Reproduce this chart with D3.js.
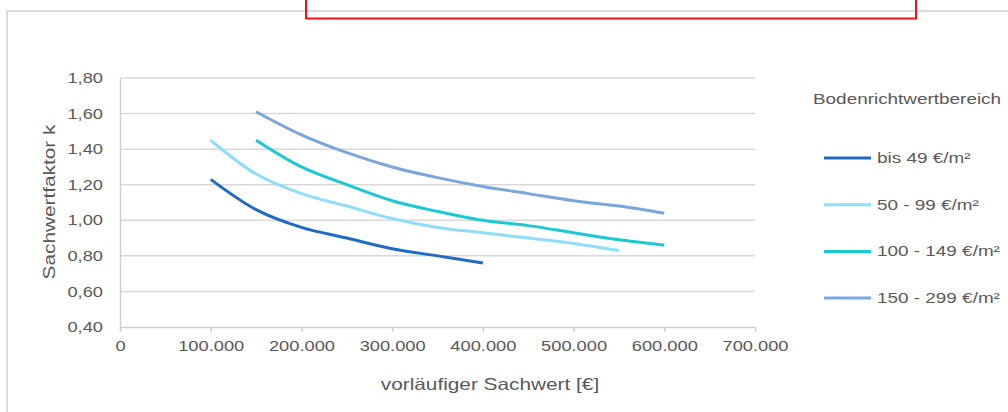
<!DOCTYPE html>
<html><head><meta charset="utf-8">
<script src="https://cdn.jsdelivr.net/npm/d3@7"></script>
<style>
html,body{margin:0;padding:0;background:#fff;}
svg text{font-family:"Liberation Sans",Arial,sans-serif;fill:#595959;}
</style></head>
<body><svg id="c" width="1008" height="412"></svg>
<script>
const xValues = [100000,150000,200000,250000,300000,350000,400000,450000,500000,550000,600000];
const seriesNames = ["bis 49 €/m²","50 - 99 €/m²","100 - 149 €/m²","150 - 299 €/m²"];
const seriesColors = ["#1f6bc4","#8fdcfc","#1cc8d2","#7aa6dc"];
const s1 = [1.23,1.06,0.96,0.90,0.84,0.80,0.76,null,null,null,null];
const s2 = [1.45,1.26,1.15,1.08,1.01,0.96,0.93,0.90,0.87,0.83,null];
const s3 = [null,1.45,1.30,1.20,1.11,1.05,1.00,0.97,0.93,0.89,0.86];
const s4 = [null,1.61,1.48,1.38,1.30,1.24,1.19,1.15,1.11,1.08,1.04];
const xTicks = [0,100000,200000,300000,400000,500000,600000,700000];
const yTicks = [0.4,0.6,0.8,1.0,1.2,1.4,1.6,1.8];
const xTitle = "vorläufiger Sachwert [€]";
const yTitle = "Sachwertfaktor k";
const legendTitle = "Bodenrichtwertbereich";

const series = [s1,s2,s3,s4];
const svg = d3.select("#c");
const x = d3.scaleLinear().domain([0,700000]).range([120,755]);
const y = d3.scaleLinear().domain([0.4,1.8]).range([327,78]);
const fmtX = v => d3.format(",")(v).replace(/,/g,".");
const fmtY = v => d3.format(".2f")(v).replace(".",",");
const STRETCH = 1.26;
function stretch(sel){
  sel.each(function(){
    const w = this.getComputedTextLength();
    d3.select(this).attr("textLength", w*STRETCH).attr("lengthAdjust","spacingAndGlyphs");
  });
}

// outer border and red frame
svg.append("path").attr("d","M7,420 L7,11 L1020,11").attr("fill","none").attr("stroke","#dcdcdc").attr("stroke-width",2);
svg.append("rect").attr("x",306).attr("y",-10).attr("width",610).attr("height",28.5)
  .attr("fill","none").attr("stroke","#f01010").attr("stroke-width",2);

// gridlines
svg.append("g").selectAll("line").data(yTicks.slice(1)).join("line")
  .attr("x1",120).attr("x2",755).attr("y1",d=>y(d)).attr("y2",d=>y(d))
  .attr("stroke","#d9d9d9").attr("stroke-width",1.5);

// y axis
const ya = svg.append("g").attr("transform","translate(120,0)")
  .call(d3.axisLeft(y).tickValues(yTicks).tickFormat(fmtY).tickSize(0).tickPadding(17));
ya.select(".domain").attr("stroke","#d0d0d0").attr("stroke-width",1.5);
ya.selectAll("text").style("font-size","14.5px").style("font-family","Liberation Sans, Arial, sans-serif").attr("fill","#595959");
stretch(ya.selectAll("text"));

// x axis
const xa = svg.append("g").attr("transform","translate(0,327)")
  .call(d3.axisBottom(x).tickValues(xTicks).tickFormat(fmtX).tickSizeInner(5).tickSizeOuter(0).tickPadding(9));
xa.select(".domain").attr("stroke","#d0d0d0").attr("stroke-width",1.5);
xa.selectAll(".tick line").attr("stroke","#d0d0d0").attr("stroke-width",1.5);
xa.selectAll("text").style("font-size","14.5px").style("font-family","Liberation Sans, Arial, sans-serif").attr("fill","#595959");
stretch(xa.selectAll("text"));

// lines
const line = d3.line().defined(d=>d.v!=null).x(d=>x(d.x)).y(d=>y(d.v)).curve(d3.curveCatmullRom.alpha(0.5));
series.forEach((s,i)=>{
  svg.append("path").datum(xValues.map((xv,j)=>({x:xv,v:s[j]})))
    .attr("d",line).attr("fill","none").attr("stroke",seriesColors[i])
    .attr("stroke-width",3).attr("stroke-linejoin","round");
});

// axis titles
const xt = svg.append("text").attr("x",490).attr("y",390).attr("text-anchor","middle")
  .style("font-size","16.5px").text(xTitle);
const yt = svg.append("text").attr("transform","translate(55,202) rotate(-90)").attr("text-anchor","middle")
  .style("font-size","16.5px").text(yTitle);
stretch(xt); stretch(yt);

// legend
const lt = svg.append("text").attr("x",813).attr("y",104).style("font-size","15px").text(legendTitle);
stretch(lt);
const lg = svg.append("g").selectAll("g").data(seriesNames).join("g")
  .attr("transform",(d,i)=>`translate(824,${158+i*46.7})`);
lg.append("line").attr("x1",0).attr("x2",47).attr("stroke",(d,i)=>seriesColors[i]).attr("stroke-width",3);
stretch(lg.append("text").attr("x",53).attr("y",5).style("font-size","15px").text(d=>d));
</script></body></html>
